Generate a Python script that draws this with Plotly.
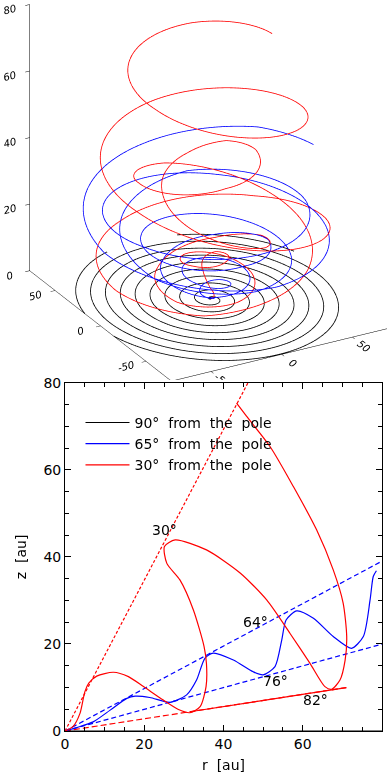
import numpy as np
import plotly.graph_objects as go

# ---------------- data ----------------
# trajectories in the meridional plane (r, z in au) with the azimuthal
# progress (in turns) at each point; azimuth of last point = 0
red_r = [0, 2, 3.8, 5.0, 6.0, 8, 12.2, 16, 19.8, 24.8, 28.5, 31.5, 34.1, 35.6, 35.7, 35.1,
         32.4, 29.0, 25.7, 25.1, 27.8, 35.7, 44.2, 50.9, 56.8, 61.8, 65.6, 67.3, 69.4, 70.7,
         71.1, 70.2, 67.7, 63.5, 57.6, 51.7, 45.8, 43.3]
red_z = [0, 1, 4.1, 9.0, 11.0, 12.6, 13.5, 12.5, 10.2, 7.1, 5.0, 4.2, 5.6, 10.2, 15.5, 19.4,
         27.8, 34.7, 38.5, 42.4, 43.9, 41.6, 36.3, 30.1, 22.4, 15.6, 10.2, 9.6, 11.7, 16.3,
         21.7, 29.4, 37.0, 46.2, 56.2, 65.4, 72.3, 75.3]
red_turns = [0, 0.15, 0.35, 0.55, 0.7, 0.9, 1.2, 1.45, 1.7, 2.0, 2.25, 2.45, 2.65, 2.85, 3.0,
             3.15, 3.4, 3.6, 3.75, 3.9, 4.05, 4.3, 4.55, 4.75, 4.95, 5.15, 5.35, 5.5, 5.7, 5.9,
             6.05, 6.25, 6.45, 6.75, 7.1, 7.45, 7.8, 8.0]

blue_r = [0, 3, 7.1, 11.4, 15.6, 17.7, 21.4, 26.5, 30.7, 33.2, 35.3, 37.4, 42.5, 47.5, 50.0,
          53.0, 54.7, 55.8, 58.5, 62.7, 67.7, 72.3, 75.3, 77.0, 77.8, 78.6]
blue_z = [0, 0.8, 2.1, 4.8, 7.5, 8.0, 7.7, 6.6, 8.3, 11.7, 16.7, 17.9, 16.3, 13.6, 12.9,
          14.8, 20.9, 25.5, 27.6, 25.9, 21.7, 19.0, 21.7, 30.1, 35.5, 36.8]
blue_turns = [0, 0.4, 0.8, 1.2, 1.6, 1.8, 2.1, 2.5, 2.8, 3.0, 3.2, 3.4, 3.8, 4.2, 4.4, 4.6,
              4.8, 4.95, 5.2, 5.6, 6.0, 6.4, 6.65, 6.9, 7.05, 7.15]

black_r = [0, 84]
black_z = [0, 0]
black_turns = [0, 9.5]

legend_names = ["90° from the pole", "65° from the pole", "30° from the pole"]
line_colors = ["black", "blue", "red"]

# reference cones (angle from the pole, colour, outer r)
cone_angles = [30, 64, 76, 82]
cone_colors = ["red", "blue", "blue", "red"]
cone_rmax = [46.2, 80, 80, 71]
cone82_solid_r = [31.5, 71]

angle_labels = ["30°", "64°", "76°", "82°"]
angle_label_r = [25.0, 48.2, 53.2, 63.1]
angle_label_z = [46.2, 25.0, 11.5, 7.1]

xy_range3 = [-78, 78]
xy_ticks = [-50, 0, 50]
z3_ticks = [0, 20, 40, 60, 80]
r_ticks = [0, 20, 40, 60, 80]

FONT = "DejaVu Sans"
NB = "\u00a0"


def spaced(s):
    return s.replace(" ", NB * 2)


def to3d(r, z, turns, n=2500):
    t = np.linspace(turns[0], turns[-1], n)
    rr = np.interp(t, turns, r)
    zz = np.interp(t, turns, z)
    phi = 2 * np.pi * (turns[-1] - t)
    return rr * np.cos(phi), rr * np.sin(phi), zz


fig = go.Figure()

# ---------------- 3D panel ----------------
for (r, z, tr), col in zip([(black_r, black_z, black_turns), (blue_r, blue_z, blue_turns),
                            (red_r, red_z, red_turns)], line_colors):
    x3, y3, z3 = to3d(r, z, tr)
    fig.add_trace(go.Scatter3d(x=x3, y=y3, z=z3, mode="lines", line=dict(color=col, width=1.6),
                               showlegend=False, hoverinfo="skip", scene="scene"))

# ---------------- 2D panel ----------------
for ang, col, rm in zip(cone_angles, cone_colors, cone_rmax):
    zz = rm / np.tan(np.radians(ang))
    dash = "3px,2px" if ang == 30 else ("5px,3px" if col == "blue" else "6px,3px")
    fig.add_trace(go.Scatter(x=[0, rm], y=[0, zz], mode="lines", showlegend=False,
                             line=dict(color=col, width=1.2, dash=dash), hoverinfo="skip"))
fig.add_trace(go.Scatter(x=cone82_solid_r,
                         y=[v * np.tan(np.radians(90 - 82)) for v in cone82_solid_r],
                         mode="lines", showlegend=False, line=dict(color="red", width=1.2),
                         hoverinfo="skip"))

for (r, z), col, name in zip([(black_r, black_z), (blue_r, blue_z), (red_r, red_z)],
                             line_colors, legend_names):
    fig.add_trace(go.Scatter(x=r, y=z, mode="lines", name=spaced(name),
                             line=dict(color=col, width=1.2, shape="spline", smoothing=0.7),
                             hoverinfo="skip"))

for txt, ar, az in zip(angle_labels, angle_label_r, angle_label_z):
    fig.add_annotation(x=ar, y=az, text=txt, showarrow=False, xref="x", yref="y",
                       font=dict(family=FONT, size=14, color="black"))

tickfont3 = dict(family=FONT, size=11, color="black")
axis3 = dict(showgrid=False, showbackground=False, zeroline=False, showline=True,
             linecolor="black", linewidth=1, ticks="outside", ticklen=5, tickcolor="black",
             title=dict(text=""), showspikes=False, tickfont=tickfont3)

cam_dir = np.array([-0.439, -0.786, 0.435])
cam_center = np.array([-0.08, 0.044, -0.14])
eye = cam_dir * 1.5 + cam_center

fig.update_layout(
    width=387, height=781, margin=dict(l=0, r=0, t=0, b=0, autoexpand=False),
    paper_bgcolor="white", plot_bgcolor="white",
    font=dict(family=FONT, color="black"),
    scene=dict(
        domain=dict(x=[0, 1], y=[0.513, 1]),
        bgcolor="rgba(0,0,0,0)",
        xaxis=dict(axis3, range=xy_range3, tickvals=xy_ticks, ticktext=[str(v) for v in xy_ticks]),
        yaxis=dict(axis3, range=xy_range3, tickvals=xy_ticks, ticktext=[str(v) for v in xy_ticks]),
        zaxis=dict(axis3, range=[0, 80], tickvals=z3_ticks, ticktext=[str(v) for v in z3_ticks]),
        aspectmode="manual", aspectratio=dict(x=1.33, y=1.53, z=1.556),
        camera=dict(projection=dict(type="orthographic"), up=dict(x=0, y=0, z=1),
                    center=dict(x=cam_center[0], y=cam_center[1], z=cam_center[2]),
                    eye=dict(x=eye[0], y=eye[1], z=eye[2])),
    ),
    xaxis=dict(domain=[0.168, 0.987], range=[0, 80], tickvals=r_ticks, automargin=False,
               ticktext=[str(v) for v in r_ticks], ticks="inside", ticklen=6,
               minor=dict(dtick=5, ticks="inside", ticklen=4, tickcolor="black"),
               showline=True, linecolor="black", linewidth=1, mirror="allticks",
               showgrid=False, zeroline=False, tickcolor="black",
               tickfont=dict(family=FONT, size=14),
               title=dict(text=spaced("r [au]"), font=dict(family=FONT, size=14), standoff=9)),
    yaxis=dict(domain=[0.064, 0.510], range=[0, 80], tickvals=r_ticks, automargin=False,
               ticktext=[str(v) for v in r_ticks], ticks="inside", ticklen=6,
               minor=dict(dtick=5, ticks="inside", ticklen=4, tickcolor="black"),
               showline=True, linecolor="black", linewidth=1, mirror="allticks",
               showgrid=False, zeroline=False, tickcolor="black",
               tickfont=dict(family=FONT, size=14),
               title=dict(text=spaced("z [au]"), font=dict(family=FONT, size=14), standoff=13)),
    legend=dict(x=0.208, y=0.479, xanchor="left", yanchor="top", bgcolor="rgba(0,0,0,0)",
                font=dict(family=FONT, size=14), tracegroupgap=0, itemwidth=44),
    showlegend=True,
)

try:
    fig.update_scenes(xaxis_tickfont_style="italic", yaxis_tickfont_style="italic",
                      zaxis_tickfont_style="italic")
except Exception:
    pass

fig.write_html("out.html", config={"displayModeBar": False},
               post_script="document.body.style.margin='0';document.body.style.padding='0';"
                           "window.dispatchEvent(new Event('resize'));")
